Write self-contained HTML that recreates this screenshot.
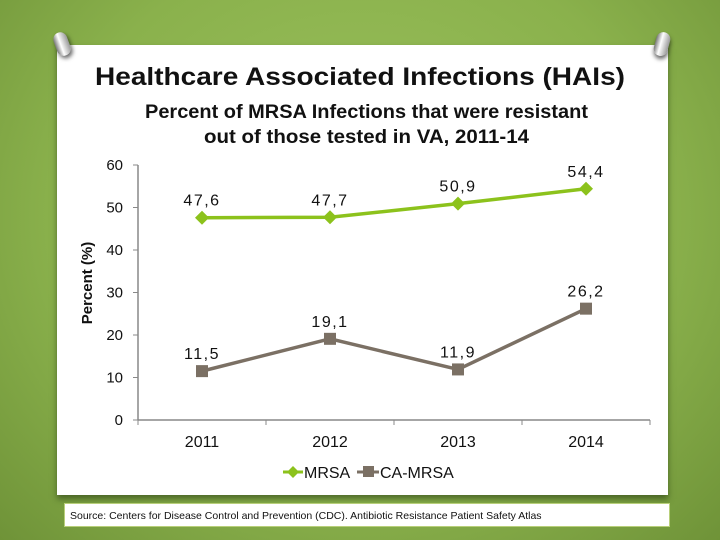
<!DOCTYPE html>
<html><head><meta charset="utf-8"><style>
body{margin:0;width:720px;height:540px;overflow:hidden;font-family:"Liberation Sans",sans-serif}
#bg{position:absolute;left:0;top:0;width:720px;height:540px;background:radial-gradient(ellipse at 50% 40%,#9cc25e 0%,#8ab14c 60%,#6f9338 100%)}
#card{position:absolute;left:57px;top:45px;width:611px;height:450px;background:#fff;box-shadow:0 4px 6px rgba(40,60,20,.6)}
#src{position:absolute;left:64px;top:503px;width:606px;height:24px;background:#fff;border:1px solid #b8cf7a;font-size:10.5px;line-height:24px;padding-left:5px;box-sizing:border-box;color:#111}
.pin{position:absolute;width:14px;height:24px;border-radius:7px;background:linear-gradient(90deg,#777,#fff 40%,#999);box-shadow:1px 3px 4px rgba(0,0,0,.6)}
</style></head><body>
<div id="bg"></div>
<div id="card"></div>
<div class="pin" style="left:55px;top:32px;transform:rotate(-20deg)"></div>
<div class="pin" style="left:655px;top:32px;transform:rotate(15deg)"></div>
<div id="src">Source: Centers for Disease Control and Prevention (CDC). Antibiotic Resistance Patient Safety Atlas</div>
<svg id="chart" width="720" height="540" style="position:absolute;left:0;top:0">
<text x="95" y="85" textLength="530" lengthAdjust="spacingAndGlyphs" font-size="25" font-weight="bold" fill="#111">Healthcare Associated Infections (HAIs)</text>
<text x="145" y="118" textLength="443" lengthAdjust="spacingAndGlyphs" font-size="19" font-weight="bold" fill="#111">Percent of MRSA Infections that were resistant</text>
<text x="204" y="143" textLength="325" lengthAdjust="spacingAndGlyphs" font-size="19" font-weight="bold" fill="#111">out of those tested in VA, 2011-14</text>
<text transform="translate(92,283) rotate(-90)" text-anchor="middle" font-size="15" font-weight="bold" fill="#111">Percent (%)</text>
<g id="plot"></g>
</svg>
<script>
const categories=["2011","2012","2013","2014"];
const mrsa=[47.6,47.7,50.9,54.4];
const caMrsa=[11.5,19.1,11.9,26.2];
const mrsaLabels=["47,6","47,7","50,9","54,4"];
const caLabels=["11,5","19,1","11,9","26,2"];
const yTicks=[0,10,20,30,40,50,60];
const NS="http://www.w3.org/2000/svg";
const g=document.getElementById('plot');
const x0=138,x1=650,yMin=0,yMax=60,py0=420,py1=165;
const y=v=>py0-(v-yMin)/(yMax-yMin)*(py0-py1);
const bw=(x1-x0)/categories.length;
const x=i=>x0+bw*(i+0.5);
function mk(t,a){const e=document.createElementNS(NS,t);for(const k in a)e.setAttribute(k,a[k]);g.appendChild(e);return e;}
let e=mk('line',{x1:x0,y1:py0,x2:x1,y2:py0,stroke:'#888','stroke-width':1.5});


e=mk('line',{x1:x0,y1:py1,x2:x0,y2:py0,stroke:'#888','stroke-width':1.5});


yTicks.forEach(t=>{
 mk('line',{x1:x0-5,y1:y(t),x2:x0,y2:y(t),stroke:'#888'});
 const tx=mk('text',{x:x0-15,y:y(t)+5,'text-anchor':'end','font-size':15,fill:'#111'});tx.textContent=t;
 
 
});
for(let i=0;i<=categories.length;i++)mk('line',{x1:x0+bw*i,y1:py0,x2:x0+bw*i,y2:py0+5,stroke:'#888'});
categories.forEach((c,i)=>{
 const tx=mk('text',{x:x(i),y:447,'text-anchor':'middle','font-size':16,fill:'#111'});tx.textContent=c;
 
 
});
function series(vals,labels,color,shape,name){
 const l=mk('polyline',{points:vals.map((v,i)=>x(i)+','+y(v)).join(' '),fill:'none',stroke:color,'stroke-width':3.5});
 
 
 vals.forEach((v,i)=>{
  let m;
  if(shape==='d')m=mk('polygon',{points:`${x(i)},${y(v)-7} ${x(i)+7},${y(v)} ${x(i)},${y(v)+7} ${x(i)-7},${y(v)}`,fill:color});
  else m=mk('rect',{x:x(i)-6,y:y(v)-6,width:12,height:12,fill:color});
  
  
  const t=mk('text',{x:x(i),y:y(v)-12,'text-anchor':'middle','font-size':16,fill:'#111','letter-spacing':'1.5'});t.textContent=labels[i];
  
  
 });
}
series(mrsa,mrsaLabels,'#8cc21c','d','mrsa');
series(caMrsa,caLabels,'#7b7064','s','ca-mrsa');
e=mk('line',{x1:283,y1:472,x2:303,y2:472,stroke:'#8cc21c','stroke-width':3});


mk('polygon',{points:'293,466 299,472 293,478 287,472',fill:'#8cc21c'});
let lt=mk('text',{x:304,y:478,'font-size':16,fill:'#111'});lt.textContent='MRSA';


mk('line',{x1:357,y1:472,x2:379,y2:472,stroke:'#7b7064','stroke-width':3});
mk('rect',{x:363,y:466,width:11,height:11,fill:'#7b7064'});
lt=mk('text',{x:380,y:478,'font-size':16,fill:'#111'});lt.textContent='CA-MRSA';


</script>
</body></html>
